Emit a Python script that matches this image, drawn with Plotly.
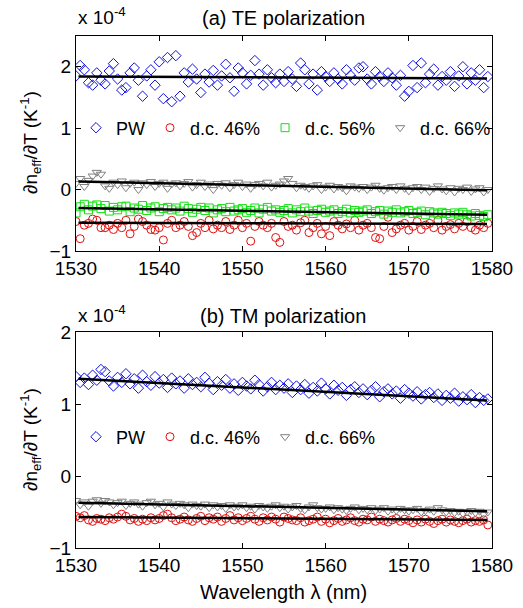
import plotly.graph_objects as go

W, H = 523, 608

# wavelength grid (nm), 0.5 nm step
WL = [1530 + 0.5 * i for i in range(100)]

# (a) TE polarization, units of 1e-4 /K
te_pw = [
    1.85, 2.02, 1.95, 1.74, 1.70, 1.90, 1.78, 1.72, 1.93, 2.05,
    1.80, 1.62, 1.66, 1.90, 1.98, 1.78, 1.52, 1.85, 1.95, 1.70,
    2.08, 1.48, 2.15, 1.43, 2.18, 1.52, 1.90, 1.75, 1.96, 1.80,
    1.58, 1.88, 1.75, 1.94, 1.70, 1.85, 2.04, 1.82, 1.60, 1.98,
    1.90, 1.72, 1.86, 2.10, 1.88, 1.70, 1.95, 1.82, 1.74, 1.88,
    1.76, 1.92, 1.80, 1.68, 2.06, 1.95, 1.72, 1.88, 1.62, 1.92,
    1.84, 1.76, 1.90, 1.80, 1.72, 1.95, 1.86, 1.78, 1.98, 2.00,
    1.80, 1.72, 1.92, 1.84, 1.76, 1.90, 1.82, 1.70, 1.86, 1.52,
    1.60, 2.02, 1.66, 2.06, 1.74, 1.88, 1.96, 1.70, 1.84, 1.78,
    1.92, 1.68, 1.85, 2.00, 1.72, 1.90, 1.78, 1.95, 1.66, 1.84,
]
te_dc46 = [
    -0.52, -0.80, -0.58, -0.55, -0.48, -0.50, -0.62, -0.62, -0.58, -0.65,
    -0.55, -0.62, -0.50, -0.72, -0.60, -0.48, -0.52, -0.58, -0.65, -0.66,
    -0.62, -0.82, -0.55, -0.50, -0.62, -0.58, -0.52, -0.60, -0.75, -0.70,
    -0.55, -0.62, -0.50, -0.64, -0.58, -0.62, -0.52, -0.65, -0.58, -0.50,
    -0.62, -0.55, -0.84, -0.60, -0.52, -0.58, -0.62, -0.55, -0.78, -0.86,
    -0.52, -0.60, -0.58, -0.66, -0.54, -0.50, -0.70, -0.62, -0.55, -0.72,
    -0.60, -0.75, -0.52, -0.58, -0.64, -0.56, -0.62, -0.50, -0.66, -0.58,
    -0.55, -0.62, -0.78, -0.80, -0.60, -0.45, -0.70, -0.64, -0.58, -0.55,
    -0.66, -0.60, -0.52, -0.65, -0.58, -0.55, -0.62, -0.50, -0.66, -0.60,
    -0.57, -0.64, -0.55, -0.60, -0.52, -0.62, -0.66, -0.58, -0.62, -0.55,
]
te_dc56 = [
    -0.38, -0.28, -0.24, -0.33, -0.27, -0.25, -0.31, -0.26, -0.35, -0.29,
    -0.33, -0.28, -0.27, -0.36, -0.30, -0.32, -0.26, -0.34, -0.30, -0.28,
    -0.36, -0.31, -0.29, -0.33, -0.30, -0.35, -0.27, -0.31, -0.37, -0.32,
    -0.29, -0.34, -0.30, -0.38, -0.33, -0.31, -0.36, -0.29, -0.35, -0.33,
    -0.31, -0.37, -0.34, -0.30, -0.38, -0.32, -0.29, -0.35, -0.33, -0.37,
    -0.34, -0.31, -0.38, -0.33, -0.36, -0.30, -0.35, -0.39, -0.34, -0.32,
    -0.37, -0.35, -0.33, -0.39, -0.36, -0.32, -0.38, -0.34, -0.37, -0.35,
    -0.33, -0.39, -0.36, -0.34, -0.40, -0.35, -0.37, -0.33, -0.38, -0.36,
    -0.34, -0.39, -0.37, -0.35, -0.41, -0.36, -0.38, -0.40, -0.37, -0.39,
    -0.42, -0.38, -0.40, -0.37, -0.41, -0.43, -0.39, -0.42, -0.44, -0.41,
]
te_dc66 = [
    0.10, 0.18, 0.05, 0.15, 0.22, 0.28, 0.25, 0.06, 0.02, 0.12,
    0.08, 0.14, 0.03, 0.10, 0.12, 0.00, 0.11, 0.08, 0.13, 0.05,
    0.10, 0.12, 0.02, 0.09, 0.11, 0.06, 0.10, 0.13, 0.04, 0.08,
    0.12, 0.05, 0.09, 0.00, 0.10, 0.07, 0.11, 0.03, 0.08, 0.12,
    0.05, 0.09, 0.02, 0.08, 0.10, 0.06, 0.12, 0.04, 0.07, 0.09,
    0.14, 0.18, 0.10, 0.03, 0.07, 0.05, 0.02, 0.06, 0.08, 0.00,
    0.04, 0.07, 0.01, 0.05, 0.03, -0.02, 0.06, 0.04, 0.02, 0.05,
    0.00, 0.04, 0.07, 0.02, -0.01, 0.03, 0.05, 0.00, 0.06, 0.02,
    -0.02, 0.03, 0.05, 0.00, 0.04, -0.03, 0.02, 0.06, 0.01, -0.02,
    0.03, -0.04, 0.02, 0.00, 0.04, -0.03, 0.01, 0.03, -0.04, 0.00,
]

# (b) TM polarization
tm_pw = [
    1.38, 1.30, 1.36, 1.27, 1.40, 1.33, 1.48, 1.45, 1.32, 1.25,
    1.37, 1.30, 1.42, 1.28, 1.35, 1.22, 1.40, 1.31, 1.26, 1.38,
    1.29, 1.34, 1.23, 1.36, 1.28, 1.32, 1.22, 1.35, 1.27, 1.30,
    1.24, 1.37, 1.29, 1.20, 1.31, 1.26, 1.34, 1.22, 1.28, 1.19,
    1.30, 1.25, 1.21, 1.33, 1.27, 1.18, 1.24, 1.30, 1.20, 1.26,
    1.22, 1.28, 1.16, 1.25, 1.20, 1.27, 1.15, 1.23, 1.18, 1.29,
    1.21, 1.14, 1.26, 1.19, 1.23, 1.12, 1.20, 1.24, 1.16, 1.21,
    1.13, 1.19, 1.24, 1.10, 1.17, 1.21, 1.14, 1.18, 1.08, 1.20,
    1.15, 1.11, 1.17, 1.07, 1.13, 1.16, 1.09, 1.14, 1.05, 1.12,
    1.08, 1.15, 1.04, 1.10, 1.06, 1.13, 1.02, 1.09, 1.05, 1.07,
]
tm_dc46 = [
    -0.56, -0.58, -0.55, -0.61, -0.63, -0.59, -0.60, -0.62, -0.58, -0.60,
    -0.57, -0.53, -0.56, -0.61, -0.59, -0.63, -0.60, -0.62, -0.58, -0.61,
    -0.59, -0.55, -0.53, -0.58, -0.62, -0.60, -0.57, -0.61, -0.63, -0.59,
    -0.56, -0.62, -0.58, -0.60, -0.57, -0.63, -0.59, -0.55, -0.61, -0.58,
    -0.62, -0.59, -0.56, -0.60, -0.63, -0.58, -0.61, -0.57, -0.60, -0.64,
    -0.57, -0.59, -0.61, -0.62, -0.58, -0.64, -0.62, -0.60, -0.57, -0.63,
    -0.60, -0.65, -0.62, -0.59, -0.63, -0.61, -0.58, -0.62, -0.64, -0.60,
    -0.61, -0.57, -0.63, -0.60, -0.62, -0.64, -0.61, -0.59, -0.63, -0.60,
    -0.62, -0.65, -0.61, -0.64, -0.60, -0.63, -0.66, -0.62, -0.60, -0.64,
    -0.61, -0.63, -0.65, -0.62, -0.60, -0.64, -0.62, -0.63, -0.61, -0.68,
]
tm_dc66 = [
    -0.34, -0.40, -0.36, -0.42, -0.35, -0.33, -0.38, -0.34, -0.36, -0.40,
    -0.37, -0.35, -0.41, -0.38, -0.36, -0.39, -0.42, -0.37, -0.35, -0.40,
    -0.38, -0.43, -0.36, -0.39, -0.41, -0.38, -0.40, -0.44, -0.39, -0.41,
    -0.42, -0.39, -0.44, -0.40, -0.43, -0.41, -0.45, -0.40, -0.43, -0.42,
    -0.40, -0.44, -0.42, -0.46, -0.41, -0.43, -0.45, -0.42, -0.40, -0.44,
    -0.42, -0.46, -0.43, -0.41, -0.45, -0.47, -0.43, -0.40, -0.44, -0.46,
    -0.45, -0.43, -0.47, -0.44, -0.46, -0.48, -0.45, -0.43, -0.47, -0.45,
    -0.47, -0.44, -0.48, -0.46, -0.44, -0.49, -0.46, -0.48, -0.45, -0.47,
    -0.49, -0.47, -0.45, -0.50, -0.48, -0.46, -0.49, -0.44, -0.47, -0.50,
    -0.48, -0.51, -0.49, -0.52, -0.50, -0.48, -0.51, -0.49, -0.53, -0.50,
]

# linear fits: end points
FIT_X = [1530.3, 1579.4]
te_fits = [[1.84, 1.81], [-0.54, -0.56], [-0.30, -0.41], [0.13, -0.01]]
tm_fits = [[1.35, 1.05], [-0.57, -0.61], [-0.37, -0.49]]

FONT = "Liberation Sans, Arial, sans-serif"
BLUE, RED, GREEN, GRAY = "#1010e0", "#e01010", "#10e010", "#808080"

te_series = [
    ("PW", te_pw, "diamond-open", BLUE),
    ("d.c. 46%", te_dc46, "circle-open", RED),
    ("d.c. 56%", te_dc56, "square-open", GREEN),
    ("d.c. 66%", te_dc66, "triangle-down-open", GRAY),
]
tm_series = [
    ("PW", tm_pw, "diamond-open", BLUE),
    ("d.c. 46%", tm_dc46, "circle-open", RED),
    ("d.c. 66%", tm_dc66, "triangle-down-open", GRAY),
]

fig = go.Figure()

for name, ys, sym, col in te_series:
    fig.add_trace(go.Scatter(x=WL, y=ys, mode="markers", name=name,
                             marker=dict(symbol=sym, size=8, color=col, line=dict(width=1, color=col)),
                             xaxis="x", yaxis="y", legend="legend"))
for fit in te_fits:
    fig.add_trace(go.Scatter(x=FIT_X, y=fit, mode="lines", showlegend=False,
                             line=dict(color="black", width=2.5), xaxis="x", yaxis="y"))

for name, ys, sym, col in tm_series:
    fig.add_trace(go.Scatter(x=WL, y=ys, mode="markers", name=name,
                             marker=dict(symbol=sym, size=8, color=col, line=dict(width=1, color=col)),
                             xaxis="x2", yaxis="y2", legend="legend2"))
for fit in tm_fits:
    fig.add_trace(go.Scatter(x=FIT_X, y=fit, mode="lines", showlegend=False,
                             line=dict(color="black", width=2.5), xaxis="x2", yaxis="y2"))


def px_dom(top, bottom):
    return [1 - bottom / H, 1 - top / H]


axis_style = dict(showline=True, mirror="ticks", linecolor="black", linewidth=1,
                  ticks="inside", ticklen=5, tickcolor="black", showgrid=False,
                  zeroline=False, tickfont=dict(family=FONT, size=19, color="black"))
xdom = [76 / W, 492 / W]
xticks = [1530, 1540, 1550, 1560, 1570, 1580]

fig.update_layout(
    width=W, height=H,
    margin=dict(l=0, r=0, t=0, b=0, autoexpand=False),
    plot_bgcolor="white", paper_bgcolor="white",
    font=dict(family=FONT, size=19, color="black"),
    xaxis=dict(domain=xdom, range=[1530, 1580], tickvals=xticks, anchor="y", **axis_style),
    yaxis=dict(domain=px_dom(36, 251), range=[-1, 2.5], tickvals=[-1, 0, 1, 2], anchor="x", **axis_style),
    xaxis2=dict(domain=xdom, range=[1530, 1580], tickvals=xticks, anchor="y2", **axis_style),
    yaxis2=dict(domain=px_dom(332, 548), range=[-1, 2], tickvals=[-1, 0, 1, 2], anchor="x2", **axis_style),
    legend=dict(orientation="h", x=76 / W, y=1 - 128 / H, xanchor="left", yanchor="middle",
                bgcolor="rgba(0,0,0,0)", font=dict(size=18), itemwidth=30),
    legend2=dict(orientation="h", x=76 / W, y=1 - 437 / H, xanchor="left", yanchor="middle",
                 bgcolor="rgba(0,0,0,0)", font=dict(size=18), itemwidth=30),
)

ylab = "\u2202n<sub>eff</sub>/\u2202T (K<sup>-1</sup>)"
annots = [
    dict(text="x 10<sup>-4</sup>", x=76 / W, y=1 - 16 / H, xanchor="left", size=19),
    dict(text="(a) TE polarization", x=283 / W, y=1 - 18 / H, xanchor="center", size=20),
    dict(text="x 10<sup>-4</sup>", x=76 / W, y=1 - 314 / H, xanchor="left", size=19),
    dict(text="(b) TM polarization", x=283 / W, y=1 - 316 / H, xanchor="center", size=20),
    dict(text=ylab, x=30 / W, y=1 - 143 / H, xanchor="center", textangle=-90, size=19),
    dict(text=ylab, x=30 / W, y=1 - 440 / H, xanchor="center", textangle=-90, size=19),
    dict(text="Wavelength \u03bb (nm)", x=283 / W, y=1 - 592 / H, xanchor="center", size=20),
]
for a in annots:
    size = a.pop("size")
    fig.add_annotation(xref="paper", yref="paper", yanchor="middle", showarrow=False,
                       font=dict(family=FONT, size=size, color="black"), **a)

# drop the browser's default 8px body margin so the figure sits at (0, 0)
fig.write_html("out.html", config={"displayModeBar": False},
               post_script="document.body.style.margin = '0';")
